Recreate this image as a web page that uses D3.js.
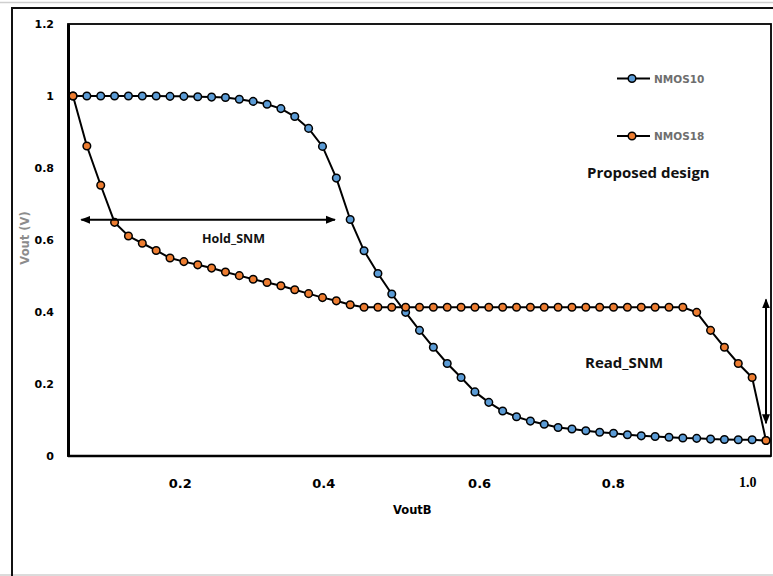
<!DOCTYPE html>
<html lang="en">
<head>
    <meta charset="UTF-8">
    <title>SNM butterfly</title>
    <style>
        body{ margin:0; background:#fff;}
        svg{ display:block;}
        .tick text{ font-family:"DejaVu Sans", sans-serif; font-weight:bold; fill:#000;}
    </style>
</head>
<body>

<script src="https://cdn.jsdelivr.net/npm/d3@7"></script>
<script>

// VoutB sweep (51 points)
var voutB = [0.00,0.02,0.04,0.06,0.08,0.10,0.12,0.14,0.16,0.18,
             0.20,0.22,0.24,0.26,0.28,0.30,0.32,0.34,0.36,0.38,
             0.40,0.42,0.44,0.46,0.48,0.50,0.52,0.54,0.56,0.58,
             0.60,0.62,0.64,0.66,0.68,0.70,0.72,0.74,0.76,0.78,
             0.80,0.82,0.84,0.86,0.88,0.90,0.92,0.94,0.96,0.98,1.00];

var nmos10 = [1.000,1.000,1.000,1.000,1.000,1.000,1.000,0.999,0.999,0.998,
              0.997,0.996,0.991,0.985,0.977,0.965,0.943,0.910,0.860,0.772,
              0.657,0.570,0.507,0.450,0.399,0.349,0.302,0.257,0.218,0.178,
              0.149,0.125,0.109,0.097,0.088,0.079,0.075,0.070,0.066,0.063,
              0.059,0.056,0.054,0.052,0.050,0.049,0.047,0.046,0.045,0.045,0.043];

var nmos18 = [1.000,0.861,0.752,0.649,0.611,0.591,0.571,0.550,0.540,0.531,
              0.522,0.511,0.501,0.491,0.482,0.473,0.462,0.451,0.440,0.431,
              0.420,0.413,0.413,0.413,0.413,0.413,0.413,0.413,0.413,0.413,
              0.413,0.413,0.413,0.413,0.413,0.413,0.413,0.413,0.413,0.413,
              0.413,0.413,0.413,0.413,0.413,0.399,0.349,0.302,0.257,0.218,0.043];

var seriesNames = ["NMOS10", "NMOS18"];
var seriesColors = ["#5b9bd5", "#ed7d31"];

var yTicks = [0, 0.2, 0.4, 0.6, 0.8, 1, 1.2];
// the x labels sit where they were placed on the original, along the sweep
var xTickLabels = ["0.2", "0.4", "0.6", "0.8", "1.0"];
var xTickAt = [0.154, 0.361, 0.586, 0.779, 0.973];

var W = 773, H = 576;

var svg = d3.select("body").append("svg")
        .attr("width", W)
        .attr("height", H);

// outer frame
svg.append("line").attr("x1", 0).attr("x2", W).attr("y1", 2.5).attr("y2", 2.5)
    .attr("stroke", "#cfcfcf").attr("stroke-width", 1.5);
svg.append("line").attr("x1", 0).attr("x2", W).attr("y1", 575).attr("y2", 575)
    .attr("stroke", "#cfcfcf").attr("stroke-width", 1.5);
svg.append("path").attr("d", "M12," + H + " L12,8 L" + W + ",8")
    .attr("fill", "none").attr("stroke", "#111").attr("stroke-width", 2);

// plot area
var pLeft = 68, pRight = 771, pTop = 24, pBottom = 456;

var x = d3.scaleLinear().domain([0, 1]).range([73, 766]);
var y = d3.scaleLinear().domain([0, 1.2]).range([pBottom, pTop]);

svg.append("rect")
    .attr("x", pLeft).attr("y", pTop)
    .attr("width", pRight - pLeft).attr("height", pBottom - pTop)
    .attr("fill", "none").attr("stroke", "#000").attr("stroke-width", 1.8);

// axes
var yAxis = svg.append("g")
    .attr("transform", "translate(" + pLeft + ",0)")
    .call(d3.axisLeft(y).tickValues(yTicks).tickSize(0).tickPadding(14)
        .tickFormat(function(d){ return d3.format("")(+d.toFixed(1)); }));
yAxis.select(".domain").attr("stroke", "#000").attr("stroke-width", 3);
yAxis.selectAll(".tick text").style("font-size", "11px");

var xAxis = svg.append("g")
    .attr("transform", "translate(0," + pBottom + ")")
    .call(d3.axisBottom(x).tickValues(xTickAt).tickSize(0).tickPadding(23)
        .tickFormat(function(d, i){ return xTickLabels[i]; }));
xAxis.select(".domain").remove();
xAxis.selectAll(".tick text").style("font-size", "13px");
xAxis.selectAll(".tick text").filter(function(d, i){ return i === 4; })
    .attr("dy", "0.55em").style("font-family", "'Liberation Serif', serif").style("font-size", "14px");

svg.append("line").attr("x1", pLeft).attr("x2", pRight).attr("y1", pBottom).attr("y2", pBottom)
    .attr("stroke", "#000").attr("stroke-width", 2.4);

// axis titles
svg.append("text")
    .attr("transform", "translate(29,238) rotate(-90)")
    .attr("text-anchor", "middle")
    .style("font-family", "'DejaVu Sans', sans-serif")
    .style("font-size", "11.5px")
    .style("font-weight", "bold")
    .attr("fill", "#8c8c8c")
    .text("Vout (V)");

svg.append("text")
    .attr("x", 393).attr("y", 514)
    .style("font-family", "'DejaVu Sans', sans-serif")
    .style("font-size", "11.5px")
    .style("font-weight", "bold")
    .text("VoutB");

// series
var series = [nmos10, nmos18];
var line = d3.line()
    .x(function(d, i){ return x(voutB[i]); })
    .y(function(d){ return y(d); });

series.forEach(function(vals, s){
    var g = svg.append("g");
    g.append("path")
        .attr("d", line(vals))
        .attr("fill", "none")
        .attr("stroke", "#000")
        .attr("stroke-width", 2);
    g.selectAll("circle")
        .data(vals)
        .enter().append("circle")
        .attr("cx", function(d, i){ return x(voutB[i]); })
        .attr("cy", function(d){ return y(d); })
        .attr("r", 3.8)
        .attr("fill", seriesColors[s])
        .attr("stroke", "#000")
        .attr("stroke-width", 1.5);
});

// legend
var legendY = [78.5, 136];
seriesNames.forEach(function(name, s){
    var lg = svg.append("g").attr("transform", "translate(617," + legendY[s] + ")");
    lg.append("line").attr("x1", 0).attr("x2", 33).attr("y1", 0).attr("y2", 0)
        .attr("stroke", "#000").attr("stroke-width", 2.2);
    lg.append("circle").attr("cx", 15).attr("cy", 0).attr("r", 3.8)
        .attr("fill", seriesColors[s]).attr("stroke", "#000").attr("stroke-width", 1.5);
    lg.append("text").attr("x", 37).attr("y", 4)
        .style("font-family", "'DejaVu Sans', sans-serif")
        .style("font-size", "10.5px")
        .style("font-weight", "bold")
        .attr("fill", "#6e6e6e")
        .text(name);
});

// annotations
var defs = svg.append("defs");
defs.append("marker")
    .attr("id", "ah")
    .attr("viewBox", "0 0 10 10")
    .attr("refX", 9).attr("refY", 5)
    .attr("markerWidth", 5).attr("markerHeight", 5)
    .attr("orient", "auto-start-reverse")
    .append("path").attr("d", "M0,1 L10,5 L0,9 Z").attr("fill", "#000");

svg.append("line")
    .attr("x1", x(0.012)).attr("x2", x(0.378))
    .attr("y1", y(0.656)).attr("y2", y(0.656))
    .attr("stroke", "#000").attr("stroke-width", 2)
    .attr("marker-start", "url(#ah)").attr("marker-end", "url(#ah)");

svg.append("line")
    .attr("x1", x(1.0)).attr("x2", x(1.0))
    .attr("y1", y(0.435)).attr("y2", y(0.091))
    .attr("stroke", "#000").attr("stroke-width", 2)
    .attr("marker-start", "url(#ah)").attr("marker-end", "url(#ah)");

function note(txt, px, py, size){
    svg.append("text")
        .attr("x", px).attr("y", py)
        .style("font-family", "'Open Sans', sans-serif")
        .style("font-size", size + "px")
        .style("font-weight", "bold")
        .attr("fill", "#111")
        .text(txt);
}
note("Hold_SNM", 202, 243, 12.5);
note("Read_SNM", 585, 368, 15);
note("Proposed design", 587, 178, 15);

</script>

</body>
</html>
